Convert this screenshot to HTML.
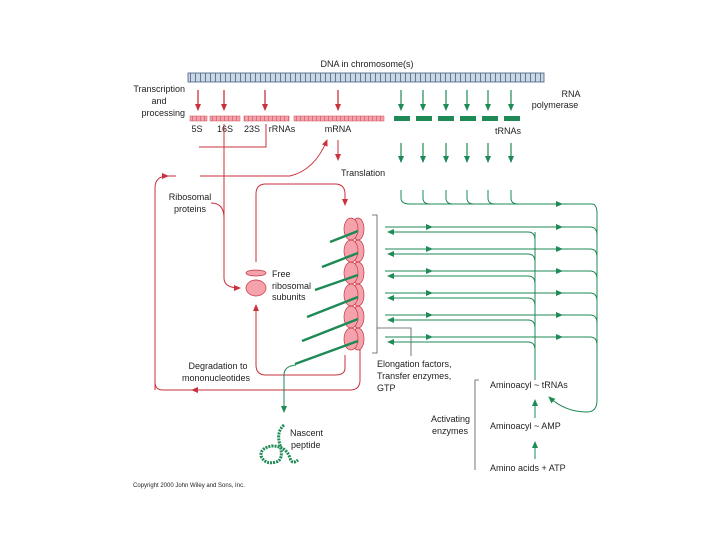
<!DOCTYPE html>
<html><head><meta charset="utf-8"><style>
body{margin:0;background:#fff}
svg{display:block}
text{font-family:"Liberation Sans",sans-serif;font-size:9px;fill:#222}
</style></head><body>
<svg width="720" height="540" viewBox="0 0 720 540" xmlns="http://www.w3.org/2000/svg">
<defs>
<marker id="r" markerWidth="8" markerHeight="8" refX="6" refY="3" orient="auto" markerUnits="userSpaceOnUse"><path d="M0,0 L7,3 L0,6 Z" fill="#c8323c"/></marker>
<marker id="g" markerWidth="8" markerHeight="8" refX="6" refY="3" orient="auto" markerUnits="userSpaceOnUse"><path d="M0,0 L7,3 L0,6 Z" fill="#1e8a55"/></marker>
<pattern id="dna" width="5" height="10" patternUnits="userSpaceOnUse"><rect width="5" height="10" fill="#c9d7e6"/><line x1="0.5" y1="0" x2="0.5" y2="10" stroke="#4a5f80" stroke-width="0.8"/></pattern>
<pattern id="pk" width="4" height="5" patternUnits="userSpaceOnUse"><rect width="4" height="5" fill="#f4a3ad"/><line x1="0.5" y1="0" x2="0.5" y2="5" stroke="#d0505c" stroke-width="0.6"/></pattern>
</defs>
<text x="367" y="67" text-anchor="middle">DNA in chromosome(s)</text>
<rect x="188" y="73" width="356" height="9" fill="url(#dna)" stroke="#4a5f80" stroke-width="0.8"/>
<text x="185" y="92" text-anchor="end">Transcription</text>
<text x="159" y="104" text-anchor="middle">and</text>
<text x="185" y="116" text-anchor="end">processing</text>
<text x="571" y="97" text-anchor="middle">RNA</text>
<text x="555" y="108" text-anchor="middle">polymerase</text>
<g stroke="#c8323c" stroke-width="1.3" fill="none">
<line x1="198" y1="90" x2="198" y2="110" marker-end="url(#r)"/>
<line x1="224" y1="90" x2="224" y2="110" marker-end="url(#r)"/>
<line x1="265" y1="90" x2="265" y2="110" marker-end="url(#r)"/>
<line x1="338" y1="90" x2="338" y2="110" marker-end="url(#r)"/>
</g>
<g stroke="#1e8a55" stroke-width="1.2" fill="none">
<line x1="401" y1="90" x2="401" y2="110" marker-end="url(#g)"/>
<line x1="423" y1="90" x2="423" y2="110" marker-end="url(#g)"/>
<line x1="446" y1="90" x2="446" y2="110" marker-end="url(#g)"/>
<line x1="467" y1="90" x2="467" y2="110" marker-end="url(#g)"/>
<line x1="488" y1="90" x2="488" y2="110" marker-end="url(#g)"/>
<line x1="511" y1="90" x2="511" y2="110" marker-end="url(#g)"/>
<line x1="401" y1="143" x2="401" y2="162" marker-end="url(#g)"/>
<line x1="423" y1="143" x2="423" y2="162" marker-end="url(#g)"/>
<line x1="446" y1="143" x2="446" y2="162" marker-end="url(#g)"/>
<line x1="467" y1="143" x2="467" y2="162" marker-end="url(#g)"/>
<line x1="488" y1="143" x2="488" y2="162" marker-end="url(#g)"/>
<line x1="511" y1="143" x2="511" y2="162" marker-end="url(#g)"/>
</g>
<g fill="url(#pk)" stroke="#d0505c" stroke-width="0.5">
<rect x="190" y="116" width="17" height="5"/><rect x="210" y="116" width="30" height="5"/>
<rect x="244" y="116" width="45" height="5"/><rect x="294" y="116" width="90" height="5"/>
</g>
<g fill="#1e8a55">
<rect x="394" y="116" width="16" height="5"/><rect x="416" y="116" width="16" height="5"/>
<rect x="438" y="116" width="16" height="5"/><rect x="460" y="116" width="16" height="5"/>
<rect x="482" y="116" width="16" height="5"/><rect x="504" y="116" width="16" height="5"/>
</g>
<text x="197" y="132" text-anchor="middle">5S</text>
<text x="225" y="132" text-anchor="middle">16S</text>
<text x="252" y="132" text-anchor="middle">23S</text>
<text x="282" y="132" text-anchor="middle">rRNAs</text>
<text x="338" y="132" text-anchor="middle">mRNA</text>
<text x="508" y="134" text-anchor="middle">tRNAs</text>
<text x="341" y="176">Translation</text>
<text x="190" y="200" text-anchor="middle">Ribosomal</text>
<text x="190" y="212" text-anchor="middle">proteins</text>
<text x="272" y="277">Free</text>
<text x="272" y="289">ribosomal</text>
<text x="272" y="300">subunits</text>
<text x="218" y="369" text-anchor="middle">Degradation to</text>
<text x="216" y="381" text-anchor="middle">mononucleotides</text>
<text x="377" y="367">Elongation factors,</text>
<text x="377" y="379">Transfer enzymes,</text>
<text x="377" y="391">GTP</text>
<text x="490" y="388">Aminoacyl ~ tRNAs</text>
<text x="490" y="429">Aminoacyl ~ AMP</text>
<text x="490" y="471">Amino acids + ATP</text>
<text x="470" y="422" text-anchor="end">Activating</text>
<text x="468" y="434" text-anchor="end">enzymes</text>
<text x="290" y="436">Nascent</text>
<text x="291" y="448">peptide</text>
<text x="133" y="487" style="font-size:6px">Copyright 2000 John Wiley and Sons, Inc.</text>
<g stroke="#c8323c" stroke-width="1" fill="none">
<path d="M199,147 H266 V124"/>
<line x1="338" y1="140" x2="338" y2="160" marker-end="url(#r)"/>
<path d="M200,176 H290 Q315,170 327,140" marker-end="url(#r)"/>
<path d="M155,390 V188 Q155,176 168,176" marker-end="url(#r)"/>
<line x1="168" y1="176" x2="176" y2="176"/>
<path d="M224,124 V278 Q224,288 240,288" marker-end="url(#r)"/>
<path d="M211,203 Q224,203 224,218"/>
<path d="M256,262 V194 Q256,184 266,184 H335 Q345,184 345,194 V205" marker-end="url(#r)"/>
<path d="M345,355 V368 Q345,375 335,375 H266 Q256,375 256,365 V305" marker-end="url(#r)"/>
<path d="M360,345 V380 Q360,390 350,390 H163 Q155,390 155,382"/>
<line x1="200" y1="390" x2="192" y2="390" marker-end="url(#r)"/>
</g>
<ellipse cx="256" cy="273" rx="10" ry="3" fill="#f4a3ad" stroke="#c8323c" stroke-width="0.7"/>
<ellipse cx="256" cy="288" rx="10" ry="8" fill="#f4a3ad" stroke="#c8323c" stroke-width="0.7"/>
<g fill="#f4a3ad" stroke="#c8323c" stroke-width="0.7">
<ellipse cx="358" cy="229" rx="6" ry="11"/><ellipse cx="351" cy="229" rx="7" ry="11"/>
<ellipse cx="358" cy="251" rx="6" ry="11"/><ellipse cx="351" cy="251" rx="7" ry="11"/>
<ellipse cx="358" cy="273" rx="6" ry="11"/><ellipse cx="351" cy="273" rx="7" ry="11"/>
<ellipse cx="358" cy="295" rx="6" ry="11"/><ellipse cx="351" cy="295" rx="7" ry="11"/>
<ellipse cx="358" cy="317" rx="6" ry="11"/><ellipse cx="351" cy="317" rx="7" ry="11"/>
<ellipse cx="358" cy="339" rx="6" ry="11"/><ellipse cx="351" cy="339" rx="7" ry="11"/>
</g>
<g stroke="#1e8a55" stroke-width="2.5">
<line x1="330" y1="242" x2="358" y2="231"/>
<line x1="322" y1="267" x2="358" y2="253"/>
<line x1="315" y1="290" x2="358" y2="275"/>
<line x1="307" y1="317" x2="358" y2="297"/>
<line x1="302" y1="341" x2="358" y2="319"/>
<line x1="295" y1="364" x2="358" y2="341"/>
</g>
<g stroke="#555" stroke-width="0.8" fill="none">
<path d="M372,215 H377 V353 H372"/>
<path d="M377,328 H411 V356"/>
<path d="M479,380 H475 V470"/>
</g>
<g stroke="#1e8a55" stroke-width="1" fill="none">
<path d="M401,190 V198 Q401,204 410,204 H592 Q597,204 597,214 V400 Q597,412 587,412 Q565,412 549,397" marker-end="url(#g)"/>
<path d="M423,190 V198 Q423,204 430,204"/>
<path d="M446,190 V198 Q446,204 453,204"/>
<path d="M467,190 V198 Q467,204 474,204"/>
<path d="M488,190 V198 Q488,204 495,204"/>
<path d="M511,190 V198 Q511,204 518,204"/>
<line x1="550" y1="204" x2="562" y2="204" marker-end="url(#g)"/>
<line x1="535" y1="380" x2="535" y2="232"/>
<path d="M385,227 H590 Q597,227 597,235"/><path d="M385,249 H590 Q597,249 597,257"/>
<path d="M385,271 H590 Q597,271 597,279"/><path d="M385,293 H590 Q597,293 597,301"/>
<path d="M385,315 H590 Q597,315 597,323"/><path d="M385,337 H590 Q597,337 597,345"/>
<path d="M528,232 Q535,232 535,240 M397,232 H528" /><path d="M397,254 H528 Q535,254 535,262"/>
<path d="M397,276 H528 Q535,276 535,284"/><path d="M397,298 H528 Q535,298 535,306"/>
<path d="M397,320 H528 Q535,320 535,328"/><path d="M397,342 H528 Q535,342 535,350"/>
<line x1="398" y1="232" x2="388" y2="232" marker-end="url(#g)"/><line x1="398" y1="254" x2="388" y2="254" marker-end="url(#g)"/>
<line x1="398" y1="276" x2="388" y2="276" marker-end="url(#g)"/><line x1="398" y1="298" x2="388" y2="298" marker-end="url(#g)"/>
<line x1="398" y1="320" x2="388" y2="320" marker-end="url(#g)"/><line x1="398" y1="342" x2="388" y2="342" marker-end="url(#g)"/>
<line x1="420" y1="227" x2="432" y2="227" marker-end="url(#g)"/><line x1="550" y1="227" x2="562" y2="227" marker-end="url(#g)"/>
<line x1="420" y1="249" x2="432" y2="249" marker-end="url(#g)"/><line x1="550" y1="249" x2="562" y2="249" marker-end="url(#g)"/>
<line x1="420" y1="271" x2="432" y2="271" marker-end="url(#g)"/><line x1="550" y1="271" x2="562" y2="271" marker-end="url(#g)"/>
<line x1="420" y1="293" x2="432" y2="293" marker-end="url(#g)"/><line x1="550" y1="293" x2="562" y2="293" marker-end="url(#g)"/>
<line x1="420" y1="315" x2="432" y2="315" marker-end="url(#g)"/><line x1="550" y1="315" x2="562" y2="315" marker-end="url(#g)"/>
<line x1="420" y1="337" x2="432" y2="337" marker-end="url(#g)"/><line x1="550" y1="337" x2="562" y2="337" marker-end="url(#g)"/>
<line x1="535" y1="418" x2="535" y2="400" marker-end="url(#g)"/>
<line x1="535" y1="459" x2="535" y2="442" marker-end="url(#g)"/>
<path d="M296,365 Q284,366 284,375 V412" marker-end="url(#g)"/>
</g>
<path d="M284,425 Q276,432 280,445 Q284,460 276,462 Q265,465 261,456 Q260,448 272,446 Q286,446 290,458 Q292,465 298,460" stroke="#1e8a55" stroke-width="3" fill="none" stroke-dasharray="2 1"/>
</svg>
</body></html>
